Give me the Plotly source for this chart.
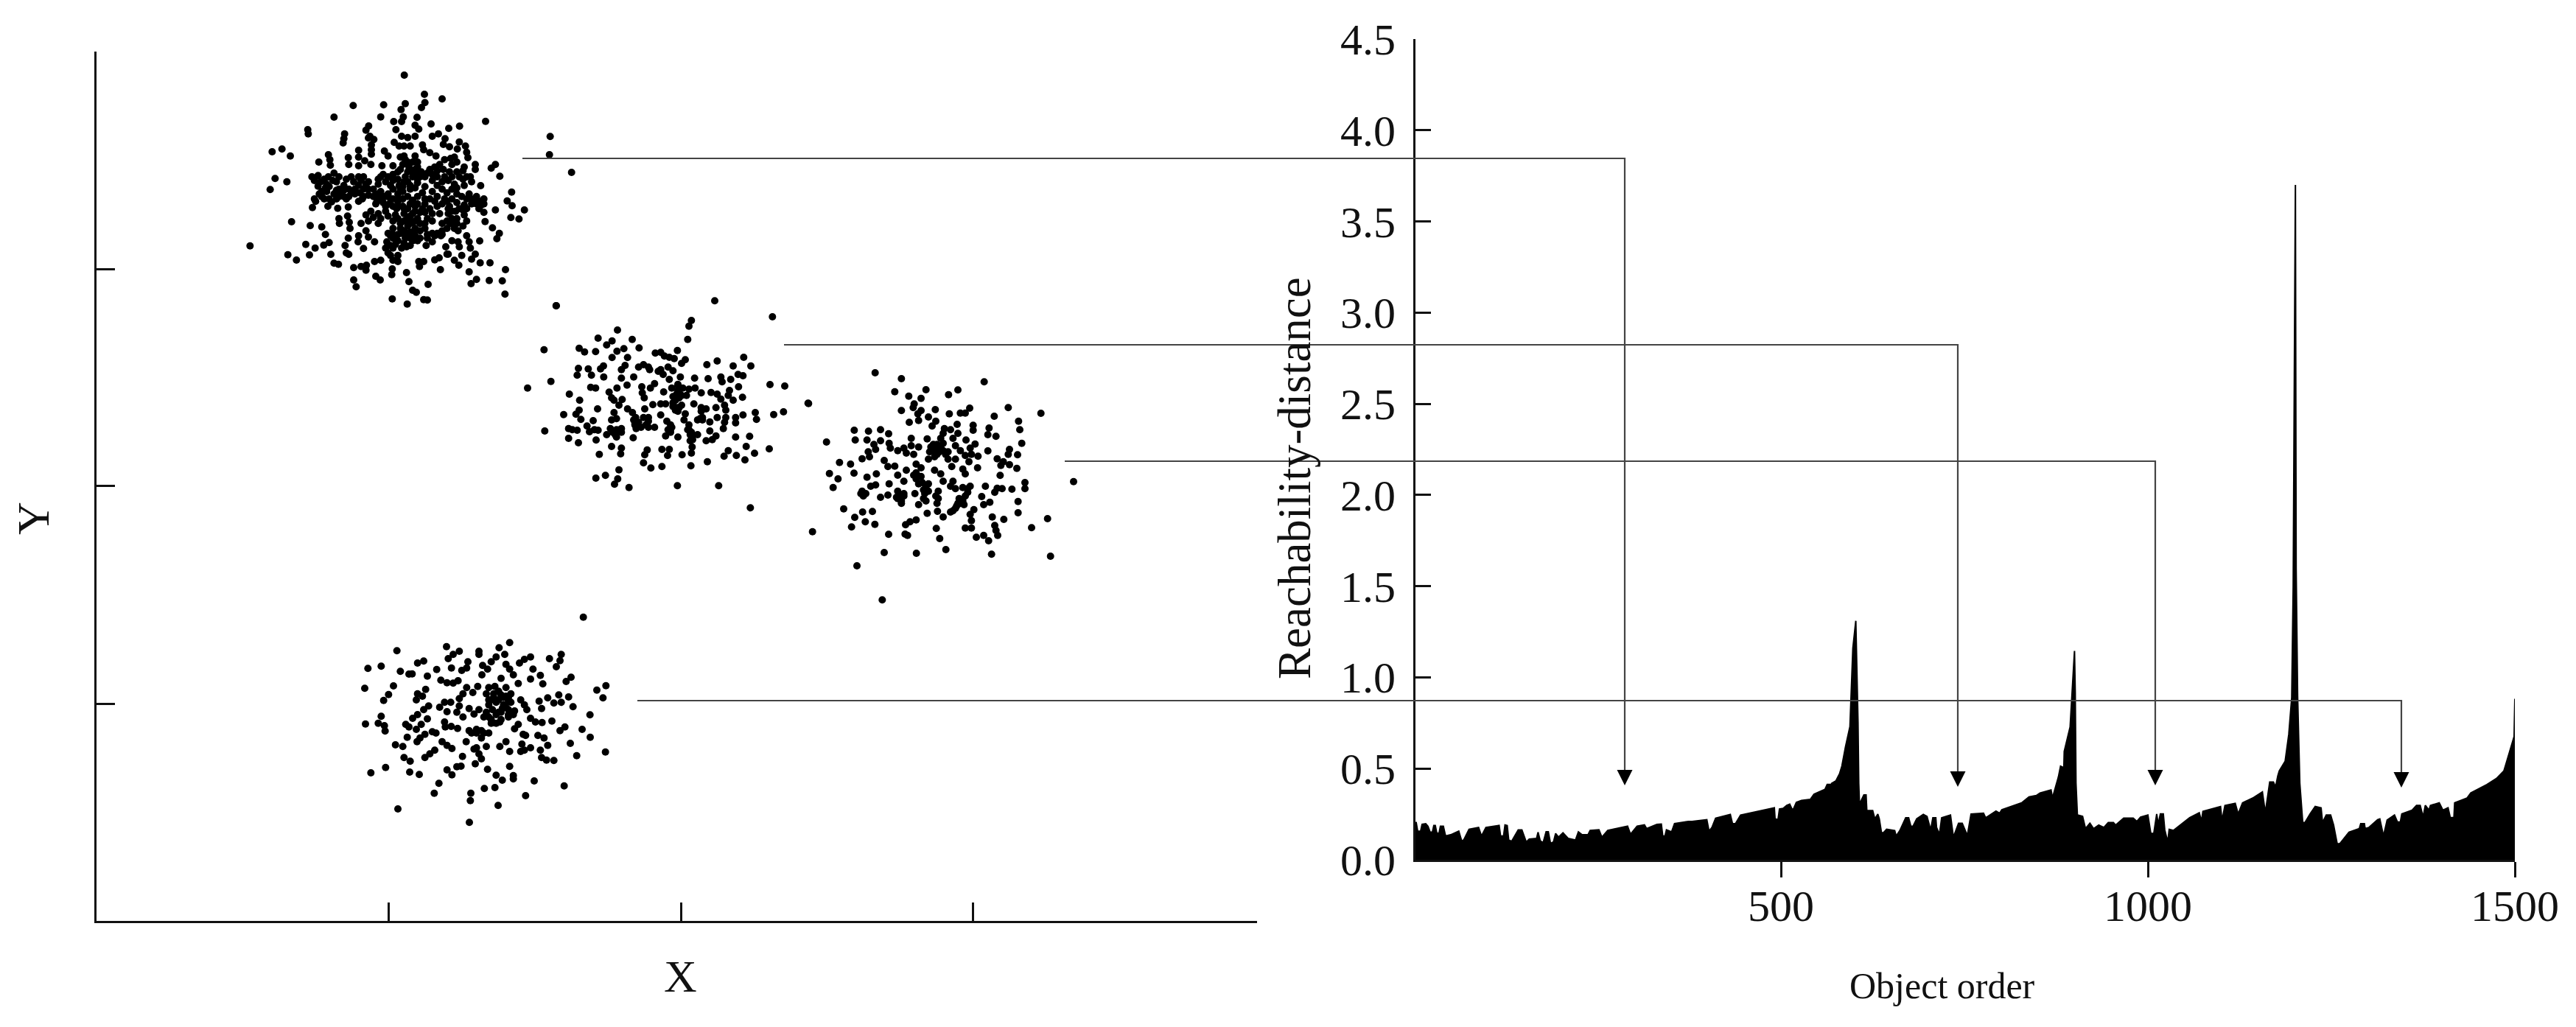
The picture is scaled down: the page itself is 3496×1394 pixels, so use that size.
import plotly.graph_objects as go

W, H = 3496, 1394

# Object-order / reachability profile
reach_x = [2,3,5,9,11,16,19,22,25,27,29,31,34,36,40,43,50,61,65,68,75,88,92,98,116,118,122,124,127,129,133,142,147,153,157,167,169,172,176,180,183,186,190,193,197,203,210,220,224,229,237,240,252,256,264,291,295,304,314,317,331,337,339,342,344,351,355,374,379,399,402,406,411,431,434,438,445,491,492,496,498,503,508,512,515,517,521,528,540,545,552,560,563,567,568,569,575,580,583,588,594,598,602,605,606,607,613,616,617,625,628,632,634,637,640,644,655,657,662,670,674,677,680,685,694,699,704,707,711,712,716,719,731,735,742,747,754,759,776,779,793,798,801,819,828,838,848,853,868,870,873,878,881,884,885,886,894,897,900,901,902,904,905,911,915,921,926,933,940,946,953,956,967,980,985,990,1000,1004,1008,1012,1014,1017,1021,1023,1027,1029,1035,1057,1070,1073,1075,1099,1101,1105,1119,1123,1129,1144,1156,1160,1166,1171,1174,1177,1179,1187,1192,1196,1198,1200,1201,1202,1204,1207,1211,1214,1221,1228,1236,1238,1243,1249,1253,1258,1262,1274,1288,1290,1295,1296,1301,1313,1316,1321,1326,1336,1340,1344,1346,1360,1366,1371,1375,1378,1383,1385,1397,1402,1409,1412,1417,1418,1435,1440,1462,1475,1482,1485,1487,1495,1499,1500,1500]
reach_y = [.204,.204,.157,.157,.194,.198,.184,.151,.151,.188,.188,.148,.144,.184,.184,.130,.137,.157,.103,.110,.167,.177,.130,.177,.188,.130,.130,.191,.188,.110,.101,.164,.164,.097,.113,.117,.151,.104,.094,.153,.153,.090,.097,.144,.124,.148,.117,.108,.153,.137,.137,.161,.164,.124,.161,.184,.140,.184,.191,.171,.194,.196,.130,.130,.164,.153,.198,.210,.210,.220,.157,.177,.228,.249,.198,.198,.245,.285,.224,.220,.278,.282,.298,.305,.278,.278,.315,.325,.331,.359,.372,.386,.413,.413,.352,.419,.433,.473,.513,.62,.73,1.16,1.31,.755,.42,.305,.355,.355,.27,.27,.224,.25,.224,.148,.15,.167,.16,.13,.16,.23,.23,.184,.184,.224,.249,.238,.164,.23,.23,.177,.14,.23,.245,.124,.2,.2,.133,.251,.255,.23,.267,.255,.274,.298,.312,.345,.352,.366,.383,.339,.386,.453,.513,.507,.433,.594,.728,.917,1.145,.917,.42,.238,.245,.238,.171,.2,.17,.19,.177,.204,.204,.19,.228,.228,.21,.234,.245,.144,.144,.251,.194,.251,.251,.164,.097,.167,.161,.231,.258,.211,.265,.292,.215,.298,.309,.251,.312,.341,.372,.258,.426,.426,.399,.46,.487,.54,.688,.89,1.5,3.0,3.7,1.6,.9,.42,.204,.204,.251,.292,.285,.204,.245,.245,.191,.086,.09,.151,.171,.198,.198,.171,.177,.22,.224,.13,.218,.245,.207,.207,.251,.272,.298,.298,.234,.298,.272,.298,.312,.272,.285,.231,.231,.312,.339,.366,.413,.446,.473,.487,.513,.62,.675,.883,0]

y_ticks = [0, .5, 1, 1.5, 2, 2.5, 3, 3.5, 4, 4.5]
y_labels = ["0.0","0.5","1.0","1.5","2.0","2.5","3.0","3.5","4.0","4.5"]
x_ticks = [500, 1000, 1500]

# Unlabelled X/Y scatter: readings per cluster, relative to a reference corner of each cluster
cluster1_ref = (507, 3540)
cluster1 = [(746,96),(828,174),(900,193),(830,208),(816,228),(750,212),(733,236),(662,217),(538,220),(460,267),(650,266),(742,266),(798,268),(1077,284),(735,285),(703,285),(855,295),(971,304),(927,313),(353,318),(355,335),(601,303),(590,320),(790,300),(805,316),(712,318),(1340,346),(503,335),(500,355),(497,372),(606,345),(622,358),(600,352),(612,380),(612,400),(612,418),(860,345),(885,335),(912,355),(905,378),(930,388),(970,368),(995,385),(962,397),(1000,410),(1005,432),(208,408),(248,397),(282,425),(1337,420),(398,450),(437,420),(443,440),(445,463),(560,402),(518,432),(560,430),(585,445),(610,460),(520,460),(560,465),(655,465),(665,405),(680,425),(745,425),(790,425),(820,380),(825,400),(850,412),(875,425),(705,370),(725,385),(760,350),(790,345),(735,345),(770,385),(745,385),(1035,460),(1035,480),(1100,475),(1117,460),(1135,508),(1427,492),(220,517),(268,530),(200,562),(370,510),(395,505),(405,530),(395,548),(437,510),(460,495),(480,510),(470,530),(440,550),(500,545),(530,510),(560,510),(590,540),(540,530),(570,525),(1057,546),(1183,572),(1165,608),(1185,628),(1235,645),(1117,645),(1180,676),(1213,682),(1075,692),(1105,718),(1133,740),(1123,762),(1053,771),(287,693),(363,709),(410,714),(425,745),(345,785),(383,800),(418,788),(440,778),(118,791),(272,827),(360,828),(307,849),(447,826),(460,862),(478,866),(505,790),(518,760),(510,820),(520,826),(560,750),(558,775),(580,802),(590,730),(600,755),(625,775),(480,680),(482,700),(515,670),(522,695),(525,720),(540,880),(570,875),(592,870),(590,890),(630,915),(648,930),(540,930),(550,958),(697,885),(695,908),(755,900),(765,937),(843,948),(780,972),(795,980),(697,1007),(758,1028),(825,1010),(840,1012),(893,888),(805,855),(825,855),(808,875),(870,848),(888,840),(925,825),(950,850),(968,870),(980,830),(1010,897),(1040,928),(1018,945),(1092,932),(1145,934),(1158,888),(1156,988),(1095,860),(1020,845),(1035,825),(1055,860),(1365,1035),
(700,465),(740,460),(765,470),(790,480),(815,490),(840,495),(880,485),(910,440),(935,435),(950,430),(905,480),(930,490),(960,490),(985,485),(1000,510),(1020,530),(650,510),(680,510),(700,500),(720,490),(750,510),(780,510),(810,510),(860,500),(640,540),(690,545),(725,545),(745,530),(770,545),(800,535),(830,550),(880,545),(900,530),(925,525),(950,540),(985,520),(400,580),(430,570),(470,565),(500,590),(565,575),(600,560),(650,570),(680,580),(720,580),(760,590),(800,590),(820,575),(880,590),(920,575),(960,580),(1010,580),(1040,590),(1070,600),(380,600),(410,590),(372,635),(385,610),(435,630),(450,612),(475,638),(518,633),(560,610),(580,590),(635,610),(660,615),(685,620),(740,630),(770,620),(800,620),(830,620),(900,620),(930,630),(960,615),(990,625),(1040,620),(1060,610),(1050,640),(590,665),(620,675),(650,680),(680,670),(710,665),(745,660),(770,670),(800,680),(830,655),(860,660),(890,660),(925,660),(955,650),(990,665),(1000,690),(985,710),(1070,655),(570,700),(600,690),(640,700),(700,690),(730,700),(760,710),(790,720),(830,720),(860,740),(900,730),(935,700),(965,730),(1000,750),(1010,775),(940,770),(965,775),(970,795),(1015,800),(915,795),(920,825),(860,775),(835,790),(790,750),(750,760),(720,770),(690,750),(675,775),(700,800),(770,790),(735,800),(720,830),(680,820),(650,850),(625,855),(700,850),(720,855),
(780,490),(800,470),(830,510),(760,530),(790,555),(740,570),(770,560),(850,600),(870,610),(910,600),(940,600),(740,600),(790,650),(760,640),(780,695),(760,680),(745,690),(810,700),(790,690),(940,680),(920,690),(900,700),(860,690),(840,680),(870,750),(840,745),(810,730),(785,740),(770,735),(660,590),(640,595),(630,580),(620,560),(545,580),(575,600),(530,570),(520,590),(480,590),(460,580),(440,600),(420,600),(1020,600),(1030,610),(1060,625),(970,640),(950,690),(960,700),(700,760),(710,785),(745,780),(755,795),(690,790),
(730,480),(760,490),(800,500),(850,480),(880,510),(910,510),(940,510),(970,510),(670,530),(700,525),(720,520),(800,520),(860,525),(960,555),(990,545),(620,590),(600,585),(580,560),(560,545),(520,560),(500,565),(430,540),(420,520),(455,525),(380,525),(700,600),(720,610),(780,605),(830,600),(980,590),(1000,600),(940,560),(900,560),(860,570),(715,640),(745,640),(790,630),(925,640),(985,645),(610,650),(640,660),(670,650),(720,680),(770,700),(810,760),(770,760),(735,740),(700,720),(950,720),(920,720),(895,750),(830,700),
(730,720),(745,730),(760,740),(780,770),(800,770),(720,745),(700,745),(680,740),(670,800),(690,830),(880,740),(900,745),(840,760),(960,680),(940,650),(920,610),(880,630),(850,640),(820,640),(810,655),(780,660),(1000,640),(1020,620),(1040,600),(1070,620),(640,520),(660,500),(700,520),(740,550),(730,560),(700,560),(670,590),(690,600),(720,600),(650,600),(630,620),(670,630),(700,630),(720,630),(600,530),(580,510),(510,520),(480,560),(410,570),(425,555),(470,600),(490,570),(510,600),(545,560),(760,450),(780,450),(800,450),(730,430),(750,440),(870,470),(890,460),(940,460),(960,450),(990,470),(1015,510)]

cluster2_ref = (1647, 2610)
cluster2 = [(224,105),(870,85),(1105,150),(775,165),(765,188),(760,242),(474,204),(395,237),(534,242),(175,284),(318,278),(340,293),(385,292),(430,265),(452,248),(562,277),(500,280),(472,290),(515,316),(452,316),(718,287),(628,298),(650,295),(665,310),(685,315),(705,320),(750,325),(735,340),(838,345),(880,330),(988,315),(1017,350),(945,350),(315,360),(310,388),(355,362),(368,388),(417,350),(405,362),(418,395),(505,348),(490,365),(490,400),(560,355),(580,345),(600,355),(605,365),(540,395),(650,365),(680,355),(700,370),(640,372),(660,385),(685,405),(730,395),(720,425),(788,400),(843,402),(895,395),(900,415),(935,405),(965,385),(985,390),(967,435),(1095,426),(1155,432),(108,440),(203,413),(365,437),(385,440),(472,440),(513,428),(573,435),(625,422),(608,440),(440,457),(450,480),(460,490),(575,460),(583,480),(662,456),(695,440),(720,450),(740,440),(765,445),(790,440),(815,460),(755,470),(700,475),(725,480),(855,458),(880,465),(895,485),(930,450),(925,470),(945,490),(983,478),(278,465),(320,490),(493,487),(480,510),(618,508),(650,505),(670,505),(700,500),(715,520),(735,510),(785,505),(815,520),(835,525),(875,520),(910,510),(1250,502),(393,525),(318,530),(305,547),(255,548),(515,525),(535,540),(585,525),(460,540),(470,565),(450,570),(548,560),(600,560),(560,580),(590,590),(625,600),(550,605),(650,550),(675,575),(695,600),(750,545),(745,570),(765,590),(815,535),(810,565),(850,578),(880,560),(915,530),(915,560),(910,580),(905,605),(955,560),(985,550),(955,582),(1035,540),(1040,568),(1110,548),(1150,537),(325,568),(375,573),(350,595),(360,618),(380,610),(395,612),(178,615),(275,605),(290,610),(310,612),(275,645),(315,663),(387,652),(430,630),(445,605),(465,630),(490,605),(470,640),(538,643),(670,635),(690,620),(720,640),(775,620),(800,630),(770,655),(850,615),(875,635),(860,650),(835,655),(955,640),(1012,637),(998,678),(1032,706),(1092,688),(450,678),(490,685),(487,708),(400,710),(595,692),(585,712),(655,690),(685,690),(678,715),(737,712),(778,680),(775,705),(840,740),(925,695),(908,718),(958,715),(993,733),(580,745),(610,766),(655,760),(773,757),(480,773),(425,796),(386,807),(475,810),(462,832),(521,845),(718,838),(886,838),(1015,928),(710,530),(725,460),(600,600),(545,585),(820,570),(690,610),(765,610),(780,635),
(720,430),(715,465),(735,470),(710,490),(700,515),(725,520),(720,535),(540,570),(570,600),(580,560),(545,590),(600,575),(690,590),(680,610),(770,630),(760,610),(780,650),(820,560),(800,570),(470,610),(455,620),(490,620)]

cluster3_ref = (2847, 2310)
cluster3 = [(323,78),(430,102),(767,115),(52,203),(403,155),(530,147),(660,148),(622,167),(460,173),(510,182),(482,205),(478,220),(430,232),(510,232),(497,245),(568,228),(625,245),(670,242),(690,242),(708,222),(865,220),(808,255),(998,243),(907,275),(540,258),(500,272),(462,280),(570,275),(555,295),(657,288),(722,292),(722,312),(787,303),(782,330),(815,337),(912,310),(238,312),(296,316),(345,310),(378,326),(605,305),(630,310),(600,325),(660,325),(535,347),(470,345),(242,352),(125,360),(290,352),(345,355),(318,370),(325,390),(380,365),(385,385),(590,345),(640,345),(693,352),(920,365),(730,368),(710,385),(782,396),(870,390),(865,410),(903,412),(415,395),(440,385),(470,375),(500,380),(450,405),(480,410),(550,380),(575,370),(600,365),(560,395),(585,400),(610,410),(650,375),(670,395),(690,415),(295,400),(300,420),(270,428),(540,430),(565,420),(620,430),(650,430),(635,460),(715,410),(742,418),(705,440),(740,465),(820,428),(845,440),(835,455),(870,452),(900,467),(178,443),(223,450),(237,487),(137,488),(172,510),(152,545),(290,503),(328,490),(360,435),(375,460),(403,458),(450,475),(490,450),(510,465),(490,485),(565,475),(590,490),(680,470),(690,490),(832,496),(415,495),(440,520),(380,530),(325,535),(305,540),(490,510),(515,525),(540,530),(600,520),(640,520),(650,550),(680,545),(710,540),(520,555),(580,560),(933,525),(933,550),(880,552),(840,550),(820,548),(810,565),(772,540),(270,560),(275,580),(345,585),(375,576),(415,560),(440,570),(420,590),(430,610),(485,570),(520,590),(530,600),(500,615),(580,590),(575,610),(665,590),(680,600),(700,565),(757,582),(790,605),(765,615),(905,602),(905,648),(195,632),(272,645),(312,643),(240,667),(283,685),(322,695),(227,706),(535,650),(577,642),(600,665),(630,645),(650,630),(685,615),(725,635),(710,655),(715,680),(800,665),(847,675),(1025,672),(960,709),(490,677),(465,685),(447,697),(810,700),(815,720),(822,740),(690,710),(715,710),(735,748),(765,740),(785,762),(68,725),(378,736),(445,735),(455,740),(572,712),(586,753),(360,810),(491,813),(611,798),(797,817),(1037,825),(249,864),(352,1003),(1131,521),(560,385),(575,410),(430,600),(410,585),(265,570),(285,570),(500,530),(525,570),(630,540),(660,610),
(560,370),(570,385),(545,400),(590,380),(600,395),(620,400),(415,590),(425,575),(440,580),(500,500),(480,495),(510,500),(530,540),(540,560),(570,580),(640,640),(655,620),(670,610),(700,550),(690,580)]

cluster4_ref = (987, 1320)
cluster4 = [(995,83),(695,187),(438,203),(652,208),(905,235),(236,220),(570,222),(570,235),(490,222),(465,235),(445,252),(675,235),(640,245),(620,265),(780,245),(755,255),(735,270),(857,252),(900,260),(885,285),(345,262),(320,270),(118,292),(172,283),(398,296),(458,290),(525,265),(520,290),(500,300),(585,280),(605,295),(680,275),(695,295),(710,318),(790,295),(820,320),(250,304),(285,315),(298,314),(360,323),(582,318),(660,332),(780,335),(945,328),(925,345),(415,340),(440,350),(465,352),(485,342),(730,353),(830,355),(222,363),(105,373),(202,398),(182,422),(353,377),(320,395),(315,420),(340,405),(520,370),(565,365),(610,370),(635,365),(680,370),(1087,362),(1050,380),(1075,412),(505,395),(545,390),(490,415),(600,395),(620,420),(660,400),(700,395),(740,420),(755,440),(895,400),(850,412),(935,408),(905,430),(875,433),(815,425),(825,455),(953,448),(365,445),(345,460),(430,430),(455,430),(410,450),(440,468),(490,445),(480,470),(530,455),(570,460),(610,440),(640,430),(670,440),(690,425),(715,465),(765,460),(1022,481),(320,480),(300,495),(360,497),(172,487),(160,515),(108,518),(185,525),(188,547),(505,490),(550,478),(590,490),(620,515),(655,510),(690,490),(780,495),(800,510),(827,512),(867,506),(272,520),(285,530),(335,520),(315,540),(430,510),(433,530),(457,528),(483,536),(730,520),(715,538),(920,530),(900,545),(990,540),(530,545),(560,540),(590,555),(610,555),(580,575),(380,550),(350,560),(395,555),(330,575),(318,590),(278,572),(750,560),(760,565),(810,565),(835,575),(1023,572),(420,590),(440,605),(460,618),(230,603),(260,610),(518,590),(600,610),(560,615),(655,610),(680,590),(745,600),(755,625),(780,615),(850,605),(942,597),(1085,632),(390,625),(370,640),(350,655),(265,655),(290,670),(503,650),(550,620),(570,640),(580,660),(555,680),(695,630),(740,630),(820,625),(825,655),(845,665),(875,667),(968,647),(130,717),(190,695),(288,714),(327,724),(440,705),(460,725),(480,692),(497,690),(605,703),(695,691),(640,727),(665,747),(710,728),(710,742),(795,750),(917,770),(407,760),(388,800),(537,800),(535,830),(592,781),(635,777),(760,810),(648,850),(240,864),(531,919),(650,420),(665,455),(680,405),(625,460),(640,480),(660,500),(690,460),(630,395),(610,490),(640,515),
(610,420),(630,410),(650,385),(670,410),(690,410),(700,430),(680,450),(650,470),(600,470),(620,500),(660,470),(690,480),(710,480),(560,555),(580,545),(540,555)]

clusters = [(cluster1, cluster1_ref), (cluster2, cluster2_ref), (cluster3, cluster3_ref), (cluster4, cluster4_ref)]
scatter_x_ticks = [1188, 2379, 3567]
scatter_y_ticks = [885, 1773, 2655, 3540]

def fx(px): return px / W
def fy(py): return 1 - py / H

INK = "#111111"
FONT = "Liberation Serif"
fig = go.Figure()

for pts, (x0, y0) in clusters:
    fig.add_trace(go.Scatter(x=[x0 + p[0] for p in pts], y=[y0 - p[1] for p in pts],
                             mode="markers", xaxis="x", yaxis="y", showlegend=False,
                             marker=dict(size=10, color="black", line=dict(width=0))))

fig.add_trace(go.Scatter(x=reach_x, y=reach_y, mode="lines", fill="tozeroy", fillcolor="black",
                         xaxis="x2", yaxis="y2", showlegend=False,
                         line=dict(color="black", width=2)))

axis_common = dict(showgrid=False, zeroline=False, showline=True, linecolor="#111111", linewidth=3,
                   tickcolor="#111111", tickwidth=2.5)
fig.update_layout(
    width=W, height=H, margin=dict(l=0, r=0, t=0, b=0, autoexpand=False),
    paper_bgcolor="white", plot_bgcolor="rgba(0,0,0,0)",
    font=dict(family=FONT, color=INK, size=60),
    xaxis=dict(domain=[fx(131), fx(1706)], range=[0, 4725], tickmode="array", tickvals=scatter_x_ticks,
               ticks="inside", ticklen=25, showticklabels=False, anchor="y", **axis_common),
    yaxis=dict(domain=[fy(1250), fy(70)], range=[0, 3540], tickmode="array", tickvals=scatter_y_ticks,
               ticks="inside", ticklen=25, showticklabels=False, anchor="x", **axis_common),
    xaxis2=dict(domain=[fx(1921), fx(3413)], range=[2, 1500], tickmode="array", tickvals=x_ticks,
                ticks="outside", ticklen=21, ticklabelstandoff=-13, anchor="y2",
                tickfont=dict(family=FONT, size=60, color=INK), **axis_common),
    yaxis2=dict(domain=[fy(1167), fy(53)], range=[0, 4.5], tickmode="array", tickvals=y_ticks,
                ticktext=y_labels, ticks="inside", ticklen=21, ticklabelstandoff=12, anchor="x2",
                tickfont=dict(family=FONT, size=60, color=INK), **axis_common),
)

def label(text, px, py, size, angle=0):
    fig.add_annotation(text=text, xref="paper", yref="paper", x=fx(px), y=fy(py), showarrow=False,
                       textangle=angle, xanchor="center", yanchor="middle",
                       font=dict(family=FONT, size=size, color=INK))

label("X", 923, 1325, 62)
label("Y", 45, 704, 62, -90)
label("Object order", 2636, 1338, 50)
label("Reachability-distance", 1757, 649, 63, -90)

# connector lines from each cluster down to the matching valley
connectors = [(709, 215, 2205, 1045), (1064, 468, 2657, 1047), (1445, 626, 2925, 1045), (865, 951, 3259, 1048)]
shapes = []
for x0, yl, xv, ya in connectors:
    shapes.append(dict(type="path", xref="paper", yref="paper",
                       path=f"M {fx(x0)} {fy(yl)} L {fx(xv)} {fy(yl)} L {fx(xv)} {fy(ya)}",
                       line=dict(color="#444444", width=2.2), fillcolor="rgba(0,0,0,0)"))
    shapes.append(dict(type="path", xref="paper", yref="paper",
                       path=f"M {fx(xv-10.5)} {fy(ya)} L {fx(xv+10.5)} {fy(ya)} L {fx(xv)} {fy(ya+21)} Z",
                       line=dict(color="black", width=0), fillcolor="black"))
fig.update_layout(shapes=shapes)

fig.write_html("out.html", config=dict(displayModeBar=False),
               post_script="document.body.style.margin='0';document.body.style.overflow='hidden';")
